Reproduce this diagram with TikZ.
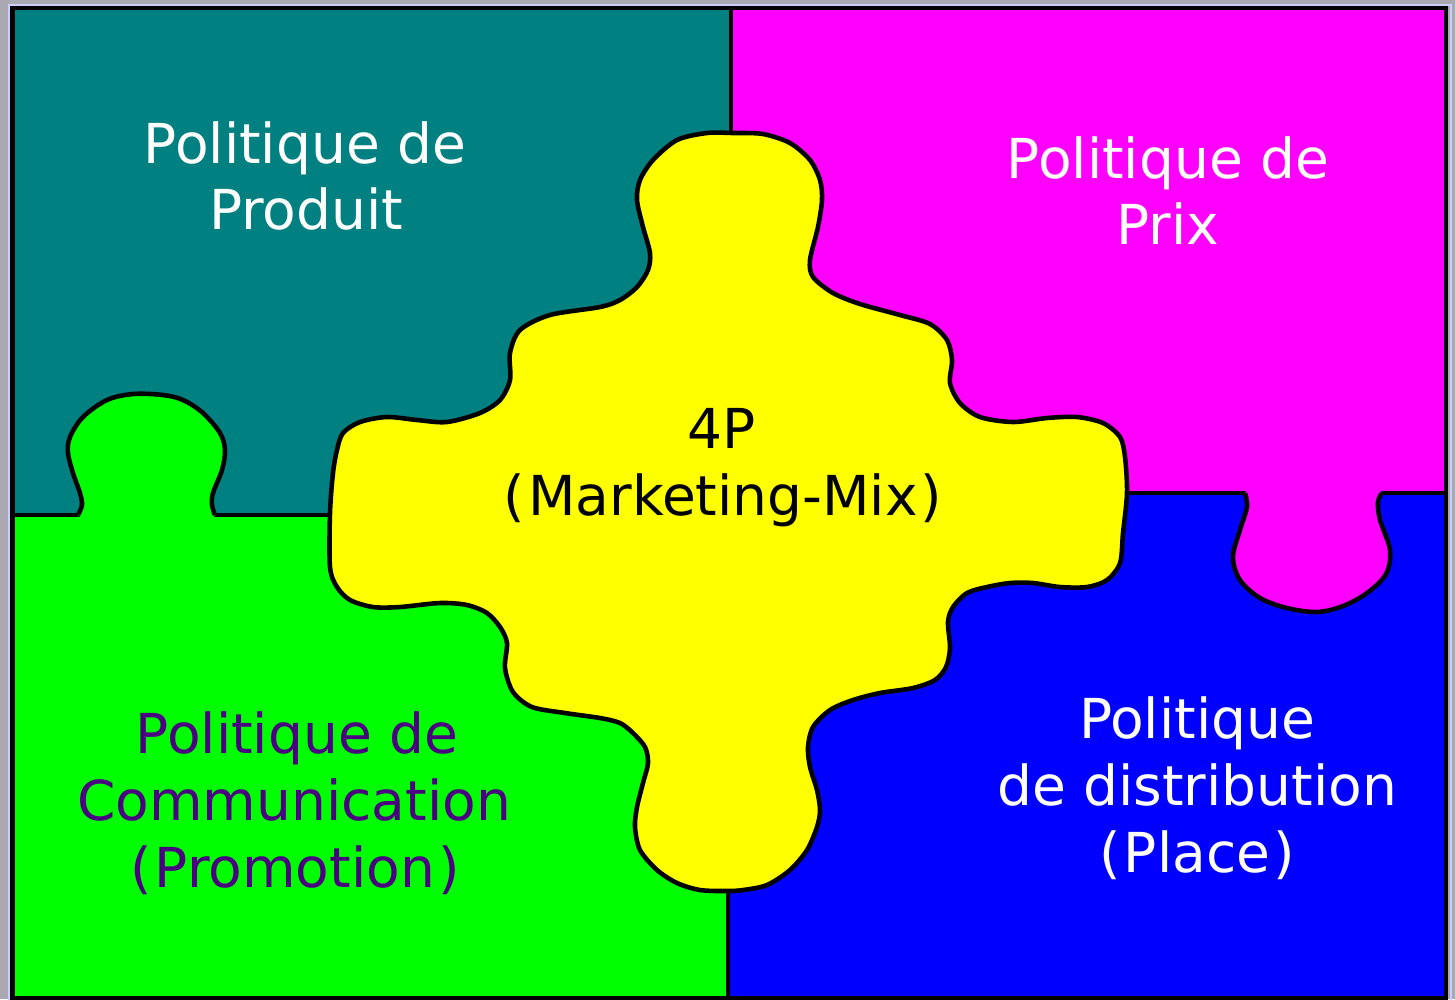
\documentclass[tikz,border=0pt]{standalone}
\usepackage{fontspec}
\setmainfont{DejaVu Sans}
\definecolor{bggray}{RGB}{170,168,176}
\definecolor{lav}{RGB}{204,204,255}
\definecolor{tealq}{RGB}{0,128,128}
\definecolor{magq}{RGB}{255,0,255}
\definecolor{greenq}{RGB}{0,255,0}
\definecolor{blueq}{RGB}{0,0,255}
\definecolor{yelq}{RGB}{255,255,0}
\definecolor{indigoq}{RGB}{75,0,130}
\newcommand{\lpar}{(\kern0.9pt}
\newcommand{\rpar}{\kern0.9pt)}
\begin{document}
\begin{tikzpicture}[x=0.01cm,y=-0.01cm,
  outl/.style={draw=black,line width=1.3pt,line join=round},
  sepline/.style={draw=black,line width=1.1pt},
  lbl/.style={anchor=base,inner sep=0pt,font=\fontsize{15.65pt}{19pt}\selectfont}]
\useasboundingbox (0,0) rectangle (1455,999);
\fill[bggray] (0,0) rectangle (1455,999);
\draw[lav,line width=0.8pt] (9,5) rectangle (1451,1003);
% quadrants
\fill[tealq] (12,8) rectangle (731,515);
\fill[magq] (731,8) rectangle (1446,493);
\fill[greenq] (12,515) rectangle (728,998);
\fill[blueq] (728,493) rectangle (1446,998);
% separating lines
\draw[sepline] (731,8) -- (731,200);
\draw[sepline] (728,850) -- (728,998);
\draw[sepline] (12,515) -- (80,515);
\draw[sepline] (214,515) -- (400,515);
\draw[sepline] (1050,493) -- (1246,493);
\draw[sepline] (1381,493) -- (1446,493);
% green tab
\fill[greenq] plot[smooth,tension=0.55] coordinates {(78,516) (82,505) (80,493) (73,473) (68,453) (70,437) (83,417) (107,400) (133,394) (163,395) (183,400) (203,413) (220,433) (225,450) (222,470) (213,493) (212,505) (215,516)} -- cycle;
\draw[outl] plot[smooth,tension=0.55] coordinates {(78,515) (82,505) (80,493) (73,473) (68,453) (70,437) (83,417) (107,400) (133,394) (163,395) (183,400) (203,413) (220,433) (225,450) (222,470) (213,493) (212,505) (215,515)};
% magenta tab
\fill[magq] plot[smooth,tension=0.55] coordinates {(1245,492) (1247,507) (1240,530) (1233,557) (1240,580) (1260,598) (1287,608) (1317,612) (1343,606) (1367,593) (1386,574) (1390,550) (1380,520) (1378,502) (1382,492)} -- cycle;
\draw[outl] plot[smooth,tension=0.55] coordinates {(1245,493) (1247,507) (1240,530) (1233,557) (1240,580) (1260,598) (1287,608) (1317,612) (1343,606) (1367,593) (1386,574) (1390,550) (1380,520) (1378,502) (1382,493)};
% yellow centre piece
\filldraw[fill=yelq,outl] plot[smooth cycle,tension=0.5] coordinates {
(733,133) (763,134) (790,143) (810,160) (820,180) (822,200) (818,227) (810,260) (813,277) (833,293) (860,304) (900,315) (930,324) (947,340) (952,360) (950,383) (960,403) (980,417) (1013,422) (1047,418) (1077,417) (1103,423) (1120,437) (1125,457) (1127,493) (1123,533) (1120,563) (1107,580) (1087,587) (1060,587) (1033,583) (1010,583) (987,587) (967,593) (953,607) (948,622) (950,648) (946,667) (935,680) (913,688) (880,693) (853,700) (830,710) (813,727) (808,747) (810,767) (817,790) (820,810) (817,827) (807,850) (790,870) (767,885) (743,890) (727,891) (700,890) (677,883) (657,870) (640,850) (635,827) (637,807) (643,783) (648,763) (645,747) (633,733) (620,723) (600,718) (565,713) (532,707) (513,692) (505,668) (507,643) (500,627) (487,613) (467,605) (440,603) (400,607) (373,607) (350,600) (337,587) (330,567) (330,513) (333,473) (337,450) (343,433) (360,422) (387,417) (417,420) (447,422) (480,413) (500,400) (510,380) (510,353) (520,330) (550,315) (600,307) (620,300) (637,287) (648,270) (650,253) (643,227) (637,200) (640,180) (653,160) (677,140) (707,133)};
% outer frame
\draw[black,line width=1.3pt] (12.5,8) rectangle (1446,998);
% labels
\node[lbl,white] (p1a) at (305,163) {Politique de};
\node[lbl,white] (p1b) at (306,229) {Produit};
\node[lbl,white] (p2a) at (1168,178) {Politique de};
\node[lbl,white] (p2b) at (1168,244) {Prix};
\node[lbl,indigoq] (p3a) at (297,753) {Politique de};
\node[lbl,indigoq] (p3b) at (294,820) {Communication};
\node[lbl,indigoq] (p3c) at (295,887) {\lpar Promotion\rpar};
\node[lbl,white] (p4a) at (1197,738) {Politique};
\node[lbl,white] (p4b) at (1197,805) {de distribution};
\node[lbl,white] (p4c) at (1197,872) {\lpar Place\rpar};
\node[lbl,black] (c1) at (722,448) {4P};
\node[lbl,black] (c2) at (723,515) {\lpar Marketing-Mix\rpar};
\end{tikzpicture}
\end{document}
